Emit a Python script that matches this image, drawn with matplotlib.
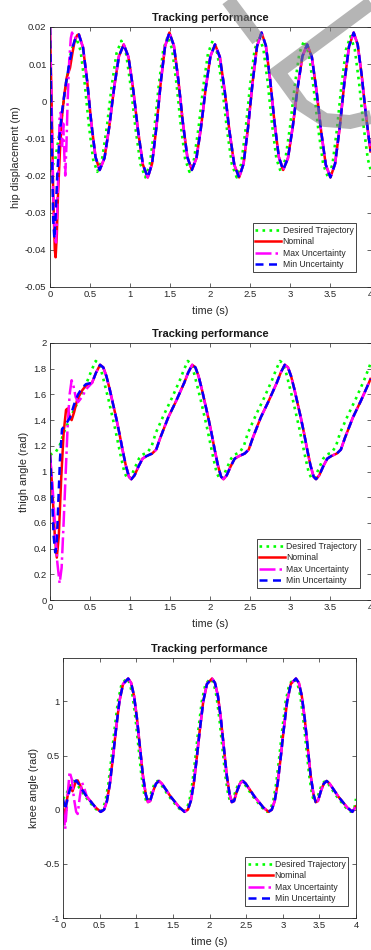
import matplotlib
matplotlib.use('Agg')
import matplotlib.pyplot as plt
from matplotlib.lines import Line2D
from matplotlib.ticker import FuncFormatter
import numpy as np

plt.rcParams['font.family'] = ['Liberation Sans', 'DejaVu Sans']
plt.rcParams['axes.unicode_minus'] = False
plt.rcParams['lines.solid_joinstyle'] = 'round'
plt.rcParams['lines.dash_joinstyle'] = 'round'

# ---- hip displacement (m) ----
hip_t_des = [0.0, 0.066, 0.132, 0.198, 0.264, 0.33, 0.382, 0.434, 0.486, 0.538,
             0.59, 0.65, 0.71, 0.77, 0.83, 0.89, 0.95, 1.01, 1.07, 1.13,
             1.19, 1.246, 1.302, 1.358, 1.414, 1.47, 1.524, 1.578, 1.632, 1.686,
             1.74, 1.798, 1.856, 1.914, 1.972, 2.03, 2.09, 2.15, 2.21, 2.27,
             2.33, 2.386, 2.442, 2.498, 2.554, 2.61, 2.664, 2.718, 2.772, 2.826,
             2.88, 2.938, 2.996, 3.054, 3.112, 3.17, 3.23, 3.29, 3.35, 3.41,
             3.47, 3.526, 3.582, 3.638, 3.694, 3.75, 3.804, 3.858, 3.912, 3.966, 4.0]
hip_des = [-0.019, -0.0156, -0.0066, 0.0046, 0.0136, 0.017, 0.0136, 0.0046, -0.0066, -0.0156,
           -0.019, -0.0156, -0.0068, 0.0041, 0.0129, 0.0163, 0.0128, 0.0036, -0.0078, -0.017,
           -0.0205, -0.0169, -0.0074, 0.0044, 0.0139, 0.0175, 0.014, 0.0049, -0.0064, -0.0155,
           -0.019, -0.0156, -0.0068, 0.0041, 0.0129, 0.0163, 0.0128, 0.0036, -0.0078, -0.017,
           -0.0205, -0.0169, -0.0074, 0.0044, 0.0139, 0.0175, 0.014, 0.0049, -0.0064, -0.0155,
           -0.019, -0.0156, -0.0068, 0.0041, 0.0129, 0.0163, 0.0128, 0.0036, -0.0078, -0.017,
           -0.0205, -0.0169, -0.0074, 0.0044, 0.0139, 0.0175, 0.014, 0.0049, -0.0064, -0.0155, -0.0183]
# tracked response after the start-up transient (the three controllers overlap)
hip_t_trk = [0.36, 0.412, 0.464, 0.516, 0.568, 0.62, 0.68, 0.74, 0.80, 0.86,
             0.92, 0.98, 1.04, 1.10, 1.16, 1.22, 1.274, 1.328, 1.382, 1.436,
             1.49, 1.546, 1.602, 1.658, 1.714, 1.77, 1.828, 1.886, 1.944, 2.002,
             2.06, 2.12, 2.18, 2.24, 2.30, 2.36, 2.416, 2.472, 2.528, 2.584,
             2.64, 2.694, 2.748, 2.802, 2.856, 2.91, 2.97, 3.03, 3.09, 3.15,
             3.21, 3.268, 3.326, 3.384, 3.442, 3.50, 3.558, 3.616, 3.674, 3.732,
             3.79, 3.84, 3.89, 3.94, 4.0]
hip_trk = [0.018, 0.0145, 0.0054, -0.0059, -0.015, -0.0185, -0.0153, -0.0068, 0.0036, 0.0121,
           0.0153, 0.0119, 0.0029, -0.0081, -0.0171, -0.0205, -0.0168, -0.007, 0.005, 0.0148,
           0.0185, 0.015, 0.0057, -0.0057, -0.015, -0.0185, -0.0153, -0.0068, 0.0036, 0.0121,
           0.0153, 0.0119, 0.0029, -0.0081, -0.0171, -0.0205, -0.0168, -0.007, 0.005, 0.0148,
           0.0185, 0.015, 0.0057, -0.0057, -0.015, -0.0185, -0.0153, -0.0068, 0.0036, 0.0121,
           0.0153, 0.0119, 0.0029, -0.0081, -0.0171, -0.0205, -0.0168, -0.007, 0.005, 0.0148,
           0.0185, 0.0153, 0.007, -0.0032, -0.0135]
hip_t_nom = [0.0, 0.02, 0.04, 0.06, 0.07, 0.085, 0.1, 0.125, 0.15, 0.18, 0.21, 0.25, 0.28, 0.31, 0.34]
hip_nom = [0.02, 0.0, -0.025, -0.04, -0.042, -0.036, -0.025, -0.013, -0.004, 0.002, 0.0065, 0.009, 0.013, 0.0165, 0.0178]
hip_t_max = [0.0, 0.02, 0.04, 0.06, 0.075, 0.09, 0.105, 0.12, 0.135, 0.15, 0.165, 0.18, 0.19, 0.205,
             0.22, 0.24, 0.26, 0.275, 0.3, 0.33]
hip_max = [0.02, -0.002, -0.025, -0.036, -0.038, -0.03, -0.018, -0.004, -0.003, -0.012, -0.006, -0.015, -0.02, -0.012,
           0.0, 0.011, 0.017, 0.0185, 0.017, 0.0172]
hip_t_min = [0.0, 0.02, 0.04, 0.055, 0.07, 0.09, 0.12, 0.16, 0.2, 0.24, 0.28, 0.31, 0.34]
hip_min = [0.02, -0.008, -0.032, -0.037, -0.031, -0.02, -0.009, -0.001, 0.005, 0.01, 0.0145, 0.0165, 0.0178]

# ---- thigh angle (rad) ----
thigh_t_des = [0.0, 0.07, 0.12, 0.17, 0.27, 0.37, 0.47, 0.52, 0.57, 0.61, 0.65, 0.69, 0.73, 0.77, 0.81,
               0.85, 0.89, 0.93, 0.97, 1.01, 1.06, 1.11,
               1.15, 1.22, 1.27, 1.32, 1.42, 1.52, 1.62, 1.67, 1.72, 1.76, 1.80, 1.84, 1.88, 1.92, 1.96,
               2.00, 2.04, 2.08, 2.12, 2.16, 2.21, 2.26,
               2.30, 2.37, 2.42, 2.47, 2.57, 2.67, 2.77, 2.82, 2.87, 2.91, 2.95, 2.99, 3.03, 3.07, 3.11,
               3.15, 3.19, 3.23, 3.27, 3.31, 3.36, 3.41,
               3.45, 3.52, 3.57, 3.62, 3.72, 3.82, 3.92, 3.97, 4.0]
thigh_des = [1.13, 1.15, 1.20, 1.30, 1.44, 1.57, 1.71, 1.79, 1.86, 1.84, 1.76, 1.66, 1.56, 1.45, 1.34,
             1.22, 1.10, 0.99, 0.94, 0.96, 1.03, 1.10,
             1.13, 1.15, 1.20, 1.30, 1.44, 1.57, 1.71, 1.79, 1.86, 1.84, 1.76, 1.66, 1.56, 1.45, 1.34,
             1.22, 1.10, 0.99, 0.94, 0.96, 1.03, 1.10,
             1.13, 1.15, 1.20, 1.30, 1.44, 1.57, 1.71, 1.79, 1.86, 1.84, 1.76, 1.66, 1.56, 1.45, 1.34,
             1.22, 1.10, 0.99, 0.94, 0.96, 1.03, 1.10,
             1.13, 1.15, 1.20, 1.30, 1.44, 1.57, 1.71, 1.79, 1.84]
thigh_t_trk = [0.525, 0.575, 0.625, 0.665, 0.705, 0.745, 0.785, 0.825, 0.865, 0.905, 0.945, 0.985,
               1.015, 1.055, 1.105, 1.155,
               1.205, 1.275, 1.325, 1.375, 1.475, 1.575, 1.675, 1.725, 1.775, 1.815, 1.855, 1.895,
               1.935, 1.975, 2.015, 2.055, 2.095, 2.135, 2.165, 2.205, 2.255, 2.305,
               2.36, 2.43, 2.48, 2.53, 2.63, 2.73, 2.83, 2.88, 2.93, 2.97, 3.01, 3.05,
               3.09, 3.13, 3.17, 3.21, 3.25, 3.29, 3.32, 3.36, 3.41, 3.46,
               3.51, 3.58, 3.63, 3.68, 3.78, 3.88, 3.98, 4.0]
thigh_trk = [1.69, 1.77, 1.83, 1.81, 1.74, 1.64, 1.53, 1.42, 1.30, 1.17, 1.05, 0.96,
             0.94, 0.97, 1.04, 1.10,
             1.12, 1.14, 1.17, 1.26, 1.42, 1.55, 1.69, 1.77, 1.83, 1.81, 1.74, 1.64,
             1.53, 1.42, 1.30, 1.17, 1.05, 0.96, 0.94, 0.97, 1.04, 1.10,
             1.12, 1.14, 1.17, 1.26, 1.42, 1.55, 1.69, 1.77, 1.83, 1.81, 1.74, 1.64,
             1.53, 1.42, 1.30, 1.17, 1.05, 0.96, 0.94, 0.97, 1.04, 1.10,
             1.12, 1.14, 1.17, 1.26, 1.42, 1.55, 1.69, 1.72]
thigh_t_nom = [0.0, 0.03, 0.06, 0.085, 0.11, 0.14, 0.17, 0.2, 0.22, 0.25, 0.27, 0.3, 0.34, 0.4, 0.45]
thigh_nom = [1.13, 0.85, 0.5, 0.33, 0.5, 0.95, 1.3, 1.48, 1.49, 1.42, 1.40, 1.46, 1.56, 1.63, 1.67]
thigh_t_max = [0.0, 0.03, 0.06, 0.09, 0.12, 0.145, 0.17, 0.2, 0.22, 0.245, 0.27, 0.295, 0.32, 0.35, 0.4, 0.45]
thigh_max = [1.13, 0.9, 0.6, 0.3, 0.13, 0.25, 0.6, 1.05, 1.35, 1.6, 1.71, 1.66, 1.58, 1.54, 1.58, 1.64]
thigh_t_min = [0.0, 0.02, 0.045, 0.065, 0.085, 0.1, 0.125, 0.15, 0.19, 0.25, 0.3, 0.35, 0.4, 0.45]
thigh_min = [1.13, 0.9, 0.5, 0.37, 0.45, 0.7, 1.1, 1.33, 1.36, 1.42, 1.52, 1.6, 1.65, 1.68]

# ---- knee angle (rad) ----
knee_t_des = [0.0, 0.065, 0.105, 0.145, 0.185, 0.245, 0.305, 0.365, 0.425,
              0.495, 0.54, 0.58, 0.62, 0.66, 0.70, 0.75, 0.80, 0.87, 0.91, 0.95, 0.99, 1.03,
              1.07, 1.11, 1.14, 1.17, 1.21, 1.25, 1.29, 1.33, 1.39, 1.45, 1.51, 1.57,
              1.64, 1.685, 1.725, 1.765, 1.805, 1.845, 1.895, 1.945, 2.015, 2.055, 2.095, 2.135,
              2.175, 2.215, 2.255, 2.285, 2.315, 2.355, 2.395, 2.435, 2.475, 2.535, 2.595, 2.655, 2.715,
              2.785, 2.83, 2.87, 2.91, 2.95, 2.99, 3.04, 3.09, 3.16, 3.20, 3.24, 3.28,
              3.32, 3.36, 3.40, 3.43, 3.46, 3.50, 3.54, 3.58, 3.62, 3.68, 3.74, 3.80, 3.86,
              3.93, 3.975, 4.0]
knee_des = [0.1, 0.17, 0.24, 0.265, 0.24, 0.18, 0.12, 0.07, 0.02,
            -0.02, 0.0, 0.08, 0.24, 0.47, 0.72, 1.00, 1.16, 1.21, 1.17, 1.05, 0.84, 0.58,
            0.32, 0.14, 0.07, 0.08, 0.17, 0.24, 0.265, 0.24, 0.18, 0.12, 0.07, 0.02,
            -0.02, 0.0, 0.08, 0.24, 0.47, 0.72, 1.00, 1.16, 1.21, 1.17, 1.05, 0.84,
            0.58, 0.32, 0.14, 0.07, 0.08, 0.17, 0.24, 0.265, 0.24, 0.18, 0.12, 0.07, 0.02,
            -0.02, 0.0, 0.08, 0.24, 0.47, 0.72, 1.00, 1.16, 1.21, 1.17, 1.05, 0.84,
            0.58, 0.32, 0.14, 0.07, 0.08, 0.17, 0.24, 0.265, 0.24, 0.18, 0.12, 0.07, 0.02,
            -0.02, 0.0, 0.1]
knee_t_trk = [0.265, 0.325, 0.385, 0.445,
              0.515, 0.56, 0.60, 0.64, 0.68, 0.72, 0.77, 0.82, 0.89, 0.93, 0.97, 1.01,
              1.05, 1.09, 1.13, 1.16, 1.19, 1.23, 1.27, 1.31, 1.35, 1.41, 1.47, 1.53, 1.59,
              1.66, 1.705, 1.745, 1.785, 1.825, 1.865, 1.915, 1.965, 2.035, 2.075, 2.115, 2.155,
              2.195, 2.235, 2.275, 2.305, 2.335, 2.375, 2.415, 2.455, 2.495, 2.555, 2.615, 2.675, 2.735,
              2.805, 2.85, 2.89, 2.93, 2.97, 3.01, 3.06, 3.11, 3.18, 3.22, 3.26, 3.30,
              3.34, 3.38, 3.42, 3.45, 3.48, 3.52, 3.56, 3.60, 3.64, 3.70, 3.76, 3.82, 3.88,
              3.95, 4.0]
knee_trk = [0.18, 0.12, 0.07, 0.02,
            -0.02, 0.0, 0.08, 0.24, 0.47, 0.72, 1.00, 1.16, 1.21, 1.17, 1.05, 0.84,
            0.58, 0.32, 0.14, 0.07, 0.08, 0.17, 0.24, 0.265, 0.24, 0.18, 0.12, 0.07, 0.02,
            -0.02, 0.0, 0.08, 0.24, 0.47, 0.72, 1.00, 1.16, 1.21, 1.17, 1.05, 0.84,
            0.58, 0.32, 0.14, 0.07, 0.08, 0.17, 0.24, 0.265, 0.24, 0.18, 0.12, 0.07, 0.02,
            -0.02, 0.0, 0.08, 0.24, 0.47, 0.72, 1.00, 1.16, 1.21, 1.17, 1.05, 0.84,
            0.58, 0.32, 0.14, 0.07, 0.08, 0.17, 0.24, 0.265, 0.24, 0.18, 0.12, 0.07, 0.02,
            -0.02, 0.03]
knee_t_nom = [0.0, 0.02, 0.05, 0.09, 0.13, 0.17, 0.2, 0.23]
knee_nom = [0.0, -0.08, 0.08, 0.22, 0.17, 0.25, 0.27, 0.23]
knee_t_max = [0.0, 0.03, 0.06, 0.09, 0.12, 0.15, 0.18, 0.2, 0.23, 0.26, 0.29]
knee_max = [0.0, -0.18, 0.1, 0.35, 0.28, 0.1, -0.02, -0.04, 0.12, 0.25, 0.2]
knee_t_min = [0.0, 0.03, 0.06, 0.1, 0.14, 0.18, 0.22]
knee_min = [0.1, 0.0, 0.1, 0.2, 0.25, 0.27, 0.23]

labels = ['Desired Trajectory', 'Nominal', 'Max Uncertainty', 'Min Uncertainty']
AXC = '#262626'


def join(t_tr, v_tr, t_ss, v_ss):
    # start-up transient followed by the common steady tracking response
    t_ss = np.asarray(t_ss)
    v_ss = np.asarray(v_ss)
    keep = t_ss > t_tr[-1]
    return np.r_[t_tr, t_ss[keep]], np.r_[v_tr, v_ss[keep]]


def panel(ax, des, trk, nom, mx, mn, ylabel, ylim, yticks, leg_anchor):
    ax.plot(des[0], des[1], ':', color='#00ff00', lw=1.9)
    t, v = join(nom[0], nom[1], *trk)
    ax.plot(t, v, '-', color='#ff0000', lw=1.8)
    t, v = join(mx[0], mx[1], *trk)
    ax.plot(t, v, '-.', color='#ff00ff', lw=1.8)
    t, v = join(mn[0], mn[1], *trk)
    ax.plot(t, v, '--', color='#0000ff', lw=1.8, dashes=(3.2, 2.2))
    ax.set_xlim(0, 4)
    ax.set_ylim(*ylim)
    ax.set_xticks(np.arange(0, 4.01, 0.5))
    ax.set_yticks(yticks)
    fmt = FuncFormatter(lambda x, p: '%g' % round(x, 6))
    ax.xaxis.set_major_formatter(fmt)
    ax.yaxis.set_major_formatter(fmt)
    ax.tick_params(direction='in', top=True, right=True, length=3, width=0.5,
                   colors=AXC, labelsize=6.8, pad=2.5)
    for s in ax.spines.values():
        s.set_color(AXC)
        s.set_linewidth(0.6)
    ax.set_title('Tracking performance', fontsize=8, fontweight='bold', pad=4.5, color='#1a1a1a')
    ax.set_xlabel('time (s)', fontsize=7.8, color=AXC, labelpad=5)
    ax.set_ylabel(ylabel, fontsize=7.8, color=AXC, labelpad=3)
    leg = ax.legend(labels, loc='lower right', bbox_to_anchor=leg_anchor, borderaxespad=0,
                    fontsize=6.2, handlelength=3.0, handletextpad=0.15, labelspacing=0.3,
                    borderpad=0.3, fancybox=False, framealpha=1)
    leg.get_frame().set_edgecolor(AXC)
    leg.get_frame().set_linewidth(0.6)
    for txt in leg.get_texts():
        txt.set_color(AXC)


fig = plt.figure(figsize=(3.71, 9.5), dpi=100)
W, H = 371.0, 950.0
ax1 = fig.add_axes([50 / W, 1 - 287 / H, 320.5 / W, 260 / H])
ax2 = fig.add_axes([50 / W, 1 - 600 / H, 320.5 / W, 257 / H])
ax3 = fig.add_axes([63 / W, 1 - 918 / H, 293 / W, 260 / H])

panel(ax1, (hip_t_des, hip_des), (hip_t_trk, hip_trk), (hip_t_nom, hip_nom),
      (hip_t_max, hip_max), (hip_t_min, hip_min), 'hip displacement (m)',
      (-0.05, 0.02), np.arange(-0.05, 0.021, 0.01), (0.955, 0.058))
panel(ax2, (thigh_t_des, thigh_des), (thigh_t_trk, thigh_trk), (thigh_t_nom, thigh_nom),
      (thigh_t_max, thigh_max), (thigh_t_min, thigh_min), 'thigh angle (rad)',
      (0, 2), np.arange(0, 2.01, 0.2), (0.967, 0.047))
panel(ax3, (knee_t_des, knee_des), (knee_t_trk, knee_trk), (knee_t_nom, knee_nom),
      (knee_t_max, knee_max), (knee_t_min, knee_min), 'knee angle (rad)',
      (-1, 1.4), [-1, -0.5, 0, 0.5, 1], (0.973, 0.046))

# grey watermark stroke lying over the top panel
for px, py in [([228, 258], [0, 40]),
               ([371, 278, 302, 325, 350, 371], [3, 72, 105, 120, 122, 117])]:
    fig.add_artist(Line2D(np.array(px) / W, 1 - np.array(py) / H, transform=fig.transFigure,
                          color='#808080', alpha=0.58, lw=10, solid_joinstyle='miter',
                          solid_capstyle='butt', zorder=20))

fig.savefig('out.png', dpi=100)
